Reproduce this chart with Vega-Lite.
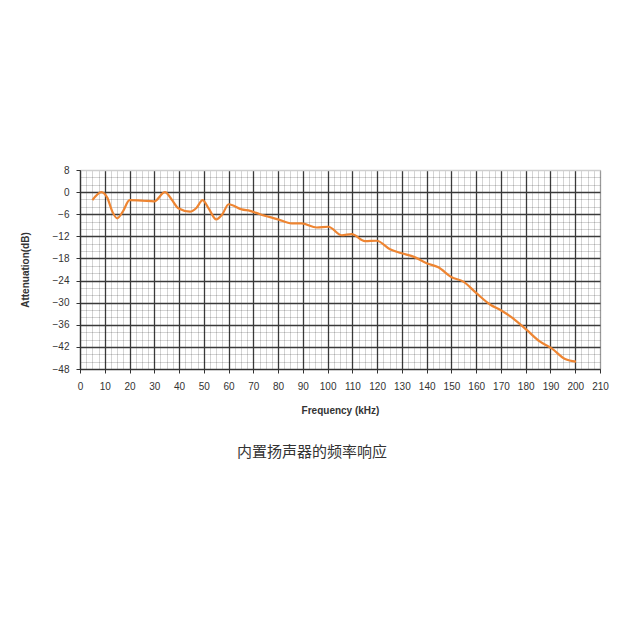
{
  "$schema": "https://vega.github.io/schema/vega-lite/v6.json",
  "autosize": "none",
  "width": 520,
  "height": 199,
  "padding": {"left": 80, "top": 170, "right": 30, "bottom": 261},
  "background": "white",
  "config": {
    "view": {"stroke": "#9a9a9a", "strokeWidth": 1},
    "font": "Liberation Sans"
  },
  "title": {
    "text": "内置扬声器的频率响应",
    "orient": "bottom",
    "anchor": "middle",
    "dx": -28,
    "offset": 30,
    "font": "Noto Sans CJK SC",
    "fontSize": 15,
    "fontWeight": "normal",
    "color": "#333333"
  },
  "data": {
    "values": [
      {"f": 5, "db": -2.2},
      {"f": 8.6, "db": 0},
      {"f": 11, "db": -1.5},
      {"f": 13, "db": -5.2},
      {"f": 15, "db": -7.1},
      {"f": 17.3, "db": -5.3},
      {"f": 20, "db": -2.2},
      {"f": 25, "db": -2.3},
      {"f": 30, "db": -2.5},
      {"f": 34.3, "db": 0},
      {"f": 37, "db": -2},
      {"f": 39.7, "db": -4.4},
      {"f": 44.4, "db": -5.3},
      {"f": 47, "db": -4.3},
      {"f": 49.5, "db": -2.2},
      {"f": 52, "db": -4.5},
      {"f": 55, "db": -7.4},
      {"f": 57.5, "db": -6},
      {"f": 60, "db": -3.3},
      {"f": 65.3, "db": -4.7},
      {"f": 68.7, "db": -5.1},
      {"f": 72.7, "db": -6},
      {"f": 80, "db": -7.4},
      {"f": 85.5, "db": -8.5},
      {"f": 89.5, "db": -8.5},
      {"f": 95.6, "db": -9.6},
      {"f": 100.3, "db": -9.4},
      {"f": 105.7, "db": -11.7},
      {"f": 109.7, "db": -11.4},
      {"f": 115.1, "db": -13.3},
      {"f": 119.8, "db": -13.2},
      {"f": 125.2, "db": -15.5},
      {"f": 129.9, "db": -16.6},
      {"f": 134.6, "db": -17.5},
      {"f": 140, "db": -19.3},
      {"f": 144.7, "db": -20.4},
      {"f": 150.1, "db": -23.1},
      {"f": 154.8, "db": -24.3},
      {"f": 160.2, "db": -27.5},
      {"f": 165.6, "db": -30.5},
      {"f": 170.3, "db": -32.2},
      {"f": 175, "db": -34.3},
      {"f": 180.4, "db": -37.4},
      {"f": 185.8, "db": -40.6},
      {"f": 190.5, "db": -42.4},
      {"f": 195.9, "db": -45.3},
      {"f": 200.3, "db": -46}
    ]
  },
  "layer": [
    {
      "mark": {"type": "line", "opacity": 0},
      "encoding": {
        "x": {
          "field": "f", "type": "quantitative",
          "scale": {"domain": [0, 210], "nice": false, "zero": false},
          "axis": {
            "orient": "top", "values": [2.5,5,7.5,12.5,15,17.5,22.5,25,27.5,32.5,35,37.5,42.5,45,47.5,52.5,55,57.5,62.5,65,67.5,72.5,75,77.5,82.5,85,87.5,92.5,95,97.5,102.5,105,107.5,112.5,115,117.5,122.5,125,127.5,132.5,135,137.5,142.5,145,147.5,152.5,155,157.5,162.5,165,167.5,172.5,175,177.5,182.5,185,187.5,192.5,195,197.5,202.5,205,207.5],
            "grid": true, "gridColor": "#000000", "gridOpacity": 0.17, "gridWidth": 1,
            "labels": false, "ticks": false, "domain": false, "title": null
          }
        },
        "y": {
          "field": "db", "type": "quantitative",
          "scale": {"domain": [-48, 6], "nice": false, "zero": false},
          "axis": {
            "orient": "right", "values": [-46,-44,-40,-38,-34,-32,-28,-26,-22,-20,-16,-14,-10,-8,-4,-2,2,4],
            "grid": true, "gridColor": "#000000", "gridOpacity": 0.17, "gridWidth": 1,
            "labels": false, "ticks": false, "domain": false, "title": null
          }
        }
      }
    },
    {
      "mark": {"type": "line", "color": "#ee8532", "strokeWidth": 2.2, "interpolate": "monotone"},
      "encoding": {
        "x": {
          "field": "f", "type": "quantitative",
          "scale": {"domain": [0, 210], "nice": false, "zero": false},
          "axis": {
            "orient": "bottom",
            "values": [0,10,20,30,40,50,60,70,80,90,100,110,120,130,140,150,160,170,180,190,200,210],
            "labelOverlap": false, "labelFlush": false,
            "grid": true,
            "gridColor": {"condition": {"test": "datum.value == 210", "value": "#9a9a9a"}, "value": "#3a3a3a"},
            "gridWidth": 1.3,
            "domainColor": "#333333", "domainWidth": 1.2,
            "tickColor": "#333333", "tickSize": 4,
            "labelFont": "Liberation Sans", "labelFontSize": 10, "labelColor": "#333333", "labelPadding": 8,
            "title": "Frequency (kHz)", "titleFont": "Liberation Sans", "titleFontSize": 10, "titleFontWeight": "bold", "titleColor": "#333333", "titlePadding": 14
          }
        },
        "y": {
          "field": "db", "type": "quantitative",
          "scale": {"domain": [-48, 6], "nice": false, "zero": false},
          "axis": {
            "orient": "left",
            "values": [-48,-42,-36,-30,-24,-18,-12,-6,0,6],
            "labelExpr": "datum.value == 6 ? '8' : datum.label",
            "labelOverlap": false, "labelFlush": false,
            "grid": true,
            "gridColor": {"condition": {"test": "datum.value == 6", "value": "#cfcfcf"}, "value": "#3a3a3a"},
            "gridWidth": 1.3,
            "domainColor": "#333333", "domainWidth": 1.2,
            "tickColor": "#333333", "tickSize": 4,
            "labelFont": "Liberation Sans", "labelFontSize": 10, "labelColor": "#333333", "labelPadding": 7,
            "title": "Attenuation(dB)", "titleFont": "Liberation Sans", "titleFontSize": 10, "titleFontWeight": "bold", "titleColor": "#333333", "titlePadding": 22
          }
        }
      }
    }
  ],
  "resolve": {"axis": {"x": "independent", "y": "independent"}}
}
